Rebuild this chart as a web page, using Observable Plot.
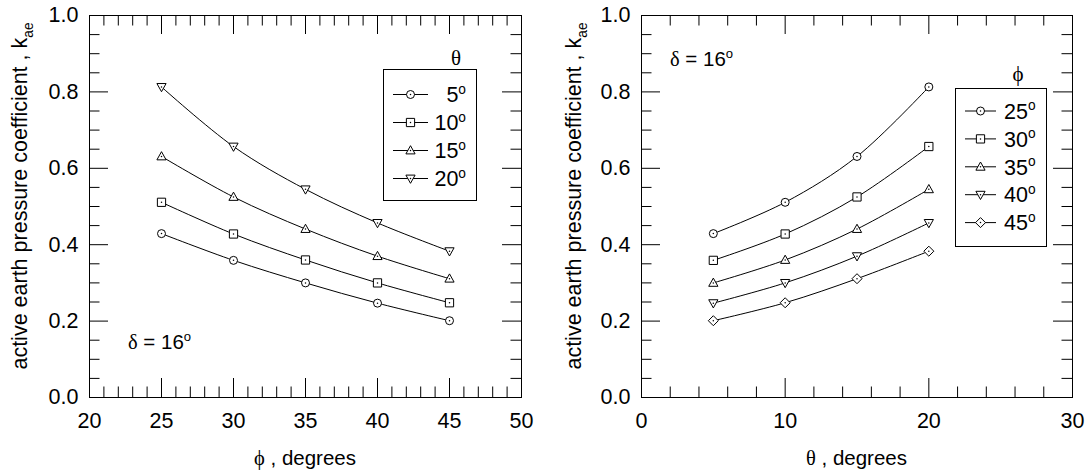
<!DOCTYPE html>
<html><head><meta charset="utf-8">
<script src="https://cdn.jsdelivr.net/npm/d3@7"></script>
<script src="https://cdn.jsdelivr.net/npm/@observablehq/plot@0.6"></script>
<style>
html,body{margin:0;padding:0;background:#fff;}
#wrap{display:flex;width:1087px;height:475px;}
#left{width:545px;height:475px;} #right{width:542px;height:475px;}
svg{display:block;}
</style></head><body><div id="wrap"><div id="left"></div><div id="right"></div></div>
<script>
// ---- data ----
const phiValues = [25, 30, 35, 40, 45];      // friction angle phi (deg)
const thetaValues = [5, 10, 15, 20];         // theta (deg)
const kTheta5  = [0.429, 0.359, 0.300, 0.247, 0.201];
const kTheta10 = [0.511, 0.428, 0.360, 0.300, 0.248];
const kTheta15 = [0.631, 0.525, 0.441, 0.370, 0.311];
const kTheta20 = [0.813, 0.657, 0.545, 0.457, 0.383];
const leftXTicks = [20, 25, 30, 35, 40, 45, 50];
const rightXTicks = [0, 10, 20, 30];
const yTickValues = [0, 0.2, 0.4, 0.6, 0.8, 1.0];
const deltaValue = "16";

const kSeries = [kTheta5, kTheta10, kTheta15, kTheta20];
const rows = [];
thetaValues.forEach((th, i) => phiValues.forEach((ph, j) => rows.push({theta: th, phi: ph, k: kSeries[i][j]})));

// ---- symbols ----
const rOf = s => Math.sqrt(s / Math.PI);
const symCircle = {draw(c, s) { const r = rOf(s); c.moveTo(r, 0); c.arc(0, 0, r, 0, 2 * Math.PI); c.closePath(); }};
const symSquare = {draw(c, s) { const r = rOf(s) * 1.03; c.moveTo(-r, -r); c.lineTo(r, -r); c.lineTo(r, r); c.lineTo(-r, r); c.closePath(); }};
const symTriUp = {draw(c, s) { const r = rOf(s); c.moveTo(0, -1.2 * r); c.lineTo(1.15 * r, 0.85 * r); c.lineTo(-1.15 * r, 0.85 * r); c.closePath(); }};
const symTriDown = {draw(c, s) { const r = rOf(s); c.moveTo(0, 1.2 * r); c.lineTo(1.15 * r, -0.85 * r); c.lineTo(-1.15 * r, -0.85 * r); c.closePath(); }};
const symDiamond = {draw(c, s) { const r = rOf(s) * 1.25; c.moveTo(0, -r); c.lineTo(r, 0); c.lineTo(0, r); c.lineTo(-r, 0); c.closePath(); }};
const leftSymbols = [symCircle, symSquare, symTriUp, symTriDown];
const rightSymbols = [symCircle, symSquare, symTriUp, symTriDown, symDiamond];

const FONT = "'Liberation Sans', Arial, Helvetica, sans-serif";
const SERIF = "'Liberation Serif', 'Times New Roman', serif";
const R = 4;
const TICK_FS = 21.5;

function range(a, b, s) { const out = []; for (let v = a; v <= b + 1e-9; v += s) out.push(+v.toFixed(4)); return out; }

function makePlot({width, mL, mR, xDomain, xMinor, xMajor, xTicks, xField, zField, zDomain, symbols}) {
  const H = 475, mT = 15, mB = 78;
  const iw = width - mL - mR, ih = H - mT - mB;
  const yMinor = range(0.05, 0.95, 0.05).filter(v => Math.abs(v * 5 - Math.round(v * 5)) > 1e-6);
  const yMajor = [0.2, 0.4, 0.6, 0.8];
  const minorL = 10.5, majorL = 19;
  const svg = Plot.plot({
    width, height: H, marginLeft: mL, marginRight: mR, marginTop: mT, marginBottom: mB,
    style: {fontFamily: FONT, fontSize: TICK_FS + "px", color: "black", background: "white", overflow: "visible"},
    x: {domain: xDomain},
    y: {domain: [0, 1]},
    symbol: {domain: zDomain, range: symbols},
    marks: [
      Plot.tickY(yMinor, {y: d => d, insetRight: iw - minorL, stroke: "black"}),
      Plot.tickY(yMinor, {y: d => d, insetLeft: iw - minorL, stroke: "black"}),
      Plot.tickY(yMajor, {y: d => d, insetRight: iw - majorL, stroke: "black"}),
      Plot.tickY(yMajor, {y: d => d, insetLeft: iw - majorL, stroke: "black"}),
      Plot.tickX(xMinor, {x: d => d, insetTop: ih - minorL, stroke: "black"}),
      Plot.tickX(xMinor, {x: d => d, insetBottom: ih - minorL, stroke: "black"}),
      Plot.tickX(xMajor, {x: d => d, insetTop: ih - majorL, stroke: "black"}),
      Plot.tickX(xMajor, {x: d => d, insetBottom: ih - majorL, stroke: "black"}),
      Plot.frame({stroke: "black", strokeWidth: 1}),
      Plot.axisX(xTicks, {tickSize: 0, tickPadding: 15, label: null, fontSize: TICK_FS}),
      Plot.axisY(yTickValues, {tickSize: 0, tickPadding: 11, label: null, fontSize: TICK_FS, tickFormat: d3.format(".1f")}),
      Plot.line(rows, {x: xField, y: "k", z: zField, curve: "catmull-rom", stroke: "black", strokeWidth: 1}),
      Plot.dot(rows, {x: xField, y: "k", symbol: zField, r: R, fill: "white", stroke: "black", strokeWidth: 1}),
      Plot.dot(rows, {x: xField, y: "k", r: 0.75, fill: "black", stroke: "none"})
    ]
  });
  return svg;
}

function richText(g, x, y, parts, {anchor = "start", size = 19, rotate = 0} = {}) {
  const t = g.append("text").attr("x", x).attr("y", y).attr("text-anchor", anchor)
    .attr("font-size", size).attr("font-family", FONT).attr("fill", "black");
  if (rotate) t.attr("transform", `rotate(${rotate},${x},${y})`);
  for (const p of parts) {
    const s = t.append("tspan").text(p.t);
    if (p.serif) s.attr("font-family", SERIF);
    if (p.sup) s.attr("font-size", size * 0.64).attr("dy", -size * 0.40);
    if (p.sub) s.attr("font-size", size * 0.64).attr("dy", size * 0.28);
  }
  return t;
}

function symPath(sym) { const p = d3.path(); sym.draw(p, R * R * Math.PI); return p.toString(); }

function legend(g, {x0, x1, y0, y1, title, titleX, titleY, rowY0, rowStep, lineX0, lineX1, labels, labelX, labelAnchor, symbols}) {
  g.append("rect").attr("x", x0).attr("y", y0).attr("width", x1 - x0).attr("height", y1 - y0)
    .attr("fill", "white").attr("stroke", "black").attr("stroke-width", 1);
  richText(g, titleX, titleY, [{t: title, serif: true}], {anchor: "middle", size: 21});
  labels.forEach((lab, i) => {
    const cy = rowY0 + i * rowStep, cx = (lineX0 + lineX1) / 2;
    g.append("line").attr("x1", lineX0).attr("x2", lineX1).attr("y1", cy).attr("y2", cy).attr("stroke", "black");
    g.append("path").attr("d", symPath(symbols[i])).attr("transform", `translate(${cx},${cy})`)
      .attr("fill", "white").attr("stroke", "black");
    g.append("circle").attr("cx", cx).attr("cy", cy).attr("r", 0.75).attr("fill", "black");
    richText(g, labelX, cy + 7.7, [{t: String(lab)}, {t: "o", sup: true}], {anchor: labelAnchor, size: 21.5});
  });
}

const YLAB = [{t: "active earth pressure coefficient , k"}, {t: "ae", sub: true}];

// ---- left chart: k vs phi, series theta ----
const left = makePlot({
  width: 545, mL: 89, mR: 24, xDomain: [20, 50],
  xMinor: range(20, 50, 1).filter(v => v % 5 !== 0), xMajor: [25, 30, 35, 40, 45],
  xTicks: leftXTicks, xField: "phi", zField: "theta", zDomain: thetaValues, symbols: leftSymbols
});
document.getElementById("left").appendChild(left);
{
  const g = d3.select(left).append("g");
  richText(g, 27, 196, YLAB, {anchor: "middle", size: 21.5, rotate: -90});
  richText(g, 305, 465, [{t: "\u03D5", serif: true}, {t: " , degrees"}], {anchor: "middle", size: 20.5});
  richText(g, 128, 349, [{t: "\u03B4", serif: true}, {t: " = " + deltaValue}, {t: "o", sup: true}], {size: 20.5});
  legend(g, {x0: 383.5, x1: 476.5, y0: 69.5, y1: 200.5, title: "\u03B8", titleX: 456, titleY: 65,
    rowY0: 94.5, rowStep: 28, lineX0: 393, lineX1: 428, labels: thetaValues, labelX: 466, labelAnchor: "end", symbols: leftSymbols});
}

// ---- right chart: k vs theta, series phi ----
const right = makePlot({
  width: 542, mL: 96, mR: 15, xDomain: [0, 30],
  xMinor: range(2, 28, 2).filter(v => v % 10 !== 0), xMajor: [10, 20],
  xTicks: rightXTicks, xField: "theta", zField: "phi", zDomain: phiValues, symbols: rightSymbols
});
document.getElementById("right").appendChild(right);
{
  const g = d3.select(right).append("g");
  richText(g, 36, 196, YLAB, {anchor: "middle", size: 21.5, rotate: -90});
  richText(g, 311.5, 465, [{t: "\u03B8", serif: true}, {t: " , degrees"}], {anchor: "middle", size: 20.5});
  richText(g, 125, 66, [{t: "\u03B4", serif: true}, {t: " = " + deltaValue}, {t: "o", sup: true}], {size: 20.5});
  legend(g, {x0: 410.5, x1: 501.5, y0: 88.5, y1: 246.5, title: "\u03D5", titleX: 473, titleY: 81,
    rowY0: 111, rowStep: 27.9, lineX0: 420, lineX1: 451, labels: phiValues, labelX: 459, labelAnchor: "start", symbols: rightSymbols});
}
</script></body></html>
